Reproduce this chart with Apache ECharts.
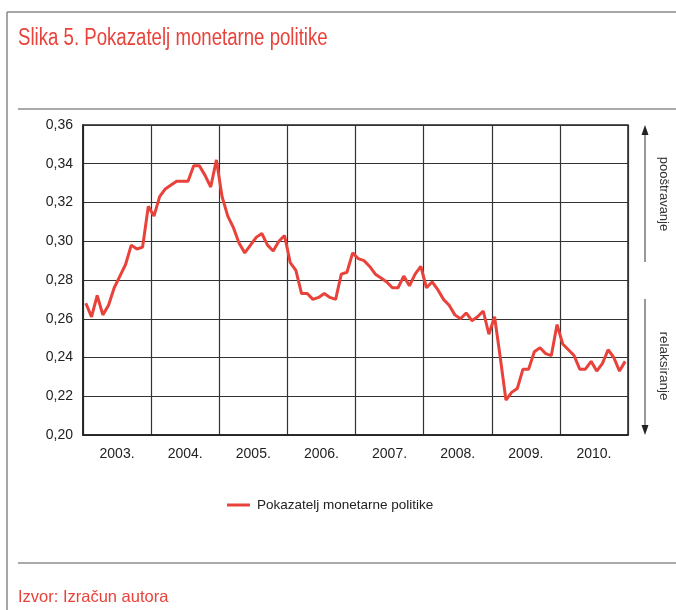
<!DOCTYPE html>
<html>
<head>
<meta charset="utf-8">
<script src="https://cdn.jsdelivr.net/npm/echarts@6/dist/echarts.min.js"></script>
<style>
  html, body { margin: 0; padding: 0; background: #fff; }
  #chart { width: 676px; height: 610px; }
</style>
</head>
<body>
<div id="chart"></div>
<script>
// Data (monthly, Jan 2003 - Dec 2010)
const years = ['2003.', '2004.', '2005.', '2006.', '2007.', '2008.', '2009.', '2010.'];
const yTicks = { min: 0.20, max: 0.36, step: 0.02 };
const indicator = [
  // 2003
  0.268, 0.261, 0.272, 0.262, 0.267, 0.276, 0.282, 0.288, 0.298, 0.296, 0.297, 0.318,
  // 2004
  0.313, 0.323, 0.327, 0.329, 0.331, 0.331, 0.331, 0.339, 0.339, 0.334, 0.328, 0.342,
  // 2005
  0.323, 0.313, 0.307, 0.299, 0.294, 0.298, 0.302, 0.304, 0.298, 0.295, 0.300, 0.303,
  // 2006
  0.289, 0.285, 0.273, 0.273, 0.270, 0.271, 0.273, 0.271, 0.270, 0.283, 0.284, 0.294,
  // 2007
  0.291, 0.290, 0.287, 0.283, 0.281, 0.279, 0.276, 0.276, 0.282, 0.277, 0.283, 0.287,
  // 2008
  0.276, 0.279, 0.275, 0.270, 0.267, 0.262, 0.260, 0.263, 0.259, 0.261, 0.264, 0.252,
  // 2009
  0.261, 0.240, 0.218, 0.222, 0.224, 0.234, 0.234, 0.243, 0.245, 0.242, 0.241, 0.257,
  // 2010
  0.247, 0.244, 0.241, 0.234, 0.234, 0.238, 0.233, 0.237, 0.244, 0.240, 0.233, 0.238
];
const months = indicator.map((_, i) => years[Math.floor(i / 12)] + (i % 12 + 1));

const RED = '#e8423a';
const FONT = "'Liberation Sans', Arial, sans-serif";

const chart = echarts.init(document.getElementById('chart'));

chart.setOption({
  animation: false,
  textStyle: { fontFamily: FONT },
  grid: {
    left: 83, right: 48, top: 125, bottom: 175,
    show: true, borderColor: '#222', borderWidth: 1.5
  },
  xAxis: [
    {
      type: 'category',
      data: years,
      boundaryGap: true,
      axisLine: { lineStyle: { color: '#222', width: 1.5 } },
      axisTick: { show: false },
      axisLabel: { color: '#222', fontSize: 14, margin: 12, fontFamily: FONT },
      splitLine: { show: true, interval: 0, lineStyle: { color: '#333', width: 1.2 } }
    },
    {
      type: 'category',
      data: months,
      boundaryGap: true,
      show: false
    }
  ],
  yAxis: {
    type: 'value',
    min: yTicks.min,
    max: yTicks.max,
    interval: yTicks.step,
    axisLine: { show: true, lineStyle: { color: '#222', width: 1.5 } },
    axisTick: { show: false },
    axisLabel: {
      color: '#222', fontSize: 14, margin: 10, fontFamily: FONT,
      formatter: v => v.toFixed(2).replace('.', ',')
    },
    splitLine: { lineStyle: { color: '#333', width: 1.2 } }
  },
  legend: {
    left: 222, top: 493,
    icon: 'rect', itemWidth: 23, itemHeight: 3, itemGap: 10,
    textStyle: { color: '#222', fontSize: 13.5, fontFamily: FONT, padding: [0, 0, 0, 2] },
    data: ['Pokazatelj monetarne politike']
  },
  series: [{
    name: 'Pokazatelj monetarne politike',
    type: 'line',
    xAxisIndex: 1,
    data: indicator,
    symbol: 'none',
    color: RED,
    lineStyle: { color: RED, width: 3 }
  }],
  graphic: [
    // frame
    { type: 'line', shape: { x1: 7, y1: 12, x2: 676, y2: 12 }, style: { stroke: '#888', lineWidth: 1.5 } },
    { type: 'line', shape: { x1: 7, y1: 12, x2: 7, y2: 610 }, style: { stroke: '#888', lineWidth: 1.5 } },
    { type: 'line', shape: { x1: 18, y1: 109, x2: 676, y2: 109 }, style: { stroke: '#555', lineWidth: 1.2 } },
    { type: 'line', shape: { x1: 18, y1: 563, x2: 676, y2: 563 }, style: { stroke: '#555', lineWidth: 1.2 } },
    // title (condensed by scaling) and source
    {
      type: 'text', x: 18, y: 27, scaleX: 0.81,
      style: { text: 'Slika 5. Pokazatelj monetarne politike', fill: RED, font: "23px " + FONT }
    },
    { type: 'text', x: 18, y: 589, style: { text: 'Izvor: Izračun autora', fill: RED, font: "16.5px " + FONT } },
    // arrows on the right
    { type: 'line', shape: { x1: 645, y1: 131, x2: 645, y2: 262 }, style: { stroke: '#777', lineWidth: 1.5 } },
    { type: 'polygon', shape: { points: [[641.5, 135], [645, 125], [648.5, 135]] }, style: { fill: '#222' } },
    { type: 'line', shape: { x1: 645, y1: 299, x2: 645, y2: 430 }, style: { stroke: '#777', lineWidth: 1.5 } },
    { type: 'polygon', shape: { points: [[641.5, 425], [645, 435], [648.5, 425]] }, style: { fill: '#222' } },
    {
      type: 'text', x: 664, y: 194, rotation: -Math.PI / 2,
      style: { text: 'pooštravanje', fill: '#333', font: "13px " + FONT, textAlign: 'center', textVerticalAlign: 'middle' }
    },
    {
      type: 'text', x: 664, y: 366, rotation: -Math.PI / 2,
      style: { text: 'relaksiranje', fill: '#333', font: "13.5px " + FONT, textAlign: 'center', textVerticalAlign: 'middle' }
    }
  ]
});
</script>
</body>
</html>
